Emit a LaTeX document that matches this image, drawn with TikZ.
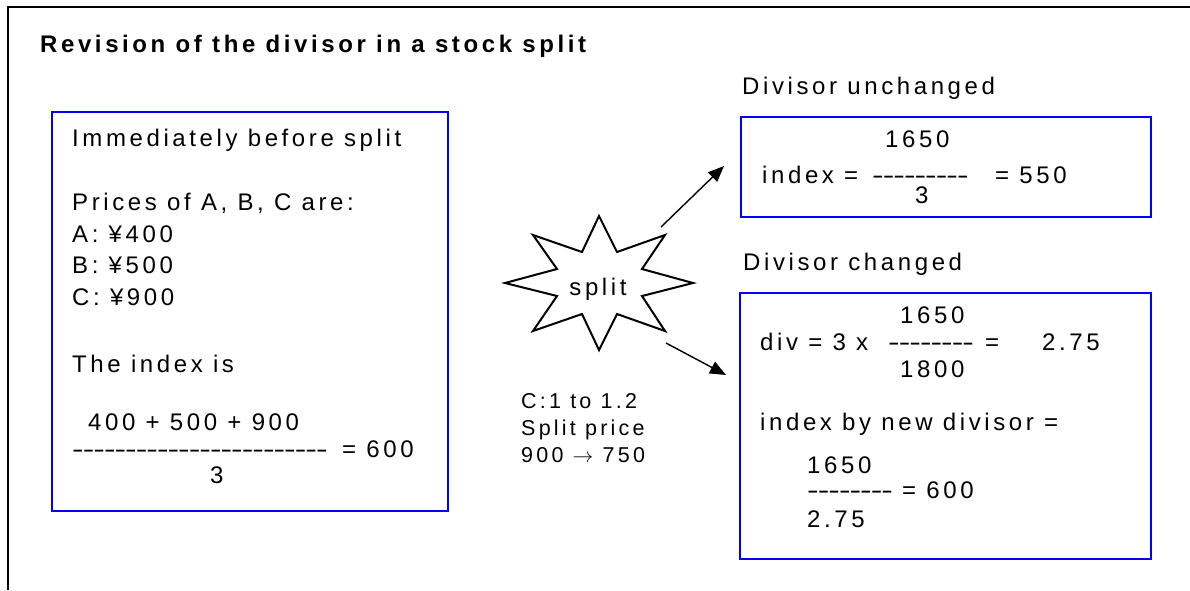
\documentclass[tikz,border=0pt]{standalone}
\usepackage{fontspec}
\setmainfont{Liberation Sans}[LetterSpace=15]
\usetikzlibrary{arrows.meta}
\newcommand\onehy{\makebox[10.6pt][l]{\scalebox{1.45}[1]{\addfontfeature{LetterSpace=0}-}}}
\newcommand\hyn[1]{\count255=0 \loop\ifnum\count255<#1 \onehy\advance\count255 by 1 \repeat}
\begin{document}
\begin{tikzpicture}[x=1pt,y=-1pt,
  txt/.style={anchor=base west, inner sep=0pt, font=\fontsize{24}{28}\selectfont},
  ctxt/.style={anchor=base, inner sep=0pt, font=\fontsize{24}{28}\selectfont},
  mtxt/.style={anchor=base west, inner sep=0pt, font=\fontsize{21.5}{26}\selectfont},
  ttl/.style={anchor=base west, inner sep=0pt, font=\fontsize{24}{28}\selectfont\bfseries},
  bluebox/.style={draw=blue, line width=2pt, inner sep=0pt, anchor=north west},
  frame/.style={line width=1.5pt},
  starline/.style={line width=2pt, line join=miter},
  arr/.style={line width=1.4pt, -{Triangle[length=16pt,width=13pt]}}
]
\useasboundingbox (0,0) rectangle (1190,590);
% outer frame
\draw[frame] (8,590) -- (8,7) -- (1190,7);
\node[ttl] (title) at (40,52) {Revision of the divisor in a stock split};

% left box
\node[bluebox, minimum width=396pt, minimum height=399pt] (before) at (51,111) {};
\node[txt] (l1) at (72,146) {Immediately before split};
\node[txt] (l2) at (72,210) {Prices of A, B, C are:};
\node[txt] (l3) at (72,242) {A: ¥400};
\node[txt] (l4) at (72,273) {B: ¥500};
\node[txt] (l5) at (72,305) {C: ¥900};
\node[txt] (l6) at (72,372) {The index is};
\node[txt] (l7) at (88,430) {400 + 500 + 900};
\node[txt] (l8) at (72,457) {\hyn{24}};
\node[txt] (l9) at (342,457) {= 600};
\node[txt] (l10) at (210,483) {3};

% star
\draw[starline] (599,216) -- (617,252) -- (665,235) -- (642,269) -- (693,283) -- (642,296)
  -- (665,331) -- (617,314) -- (599,350) -- (582,314) -- (533,331) -- (557,296)
  -- (505,283) -- (557,269) -- (533,235) -- (582,252) -- cycle;
\node[ctxt] (split) at (598,295) {split};

% middle text
\node[mtxt] (m1) at (521,408) {C:1 to 1.2};
\node[mtxt] (m2) at (521,435) {Split price};
\node[mtxt] (m3) at (521,462) {900 $\rightarrow$ 750};

% arrows
\coordinate (s1) at (661,227);
\coordinate (e1) at (724,166);
\coordinate (s2) at (666,343);
\coordinate (e2) at (726,375);
\draw[arr] (s1) -- (e1);
\draw[arr] (s2) -- (e2);

% top right
\node[txt] (h1) at (742,94) {Divisor unchanged};
\node[bluebox, minimum width=410pt, minimum height=100pt] (unch) at (740,116) {};
\node[txt] (u1) at (885,147) {1650};
\node[txt] (u2) at (762,183) {index =};
\node[txt] (u3) at (872,183) {\hyn{9}};
\node[txt] (u4) at (995,183) {= 550};
\node[txt] (u5) at (915,203) {3};

% bottom right
\node[txt] (h2) at (743,270) {Divisor changed};
\node[bluebox, minimum width=411pt, minimum height=266pt] (chg) at (739,292) {};
\node[txt] (c1) at (900,323) {1650};
\node[txt] (c2) at (760,350) {div = 3 x};
\node[txt] (c3) at (888,350) {\hyn{8}};
\node[txt] (c4) at (985,350) {=};
\node[txt] (c5) at (1042,350) {2.75};
\node[txt] (c6) at (900,377) {1800};
\node[txt] (c7) at (760,430) {index by new divisor =};
\node[txt] (c8) at (807,473) {1650};
\node[txt] (c9) at (807,498) {\hyn{8}};
\node[txt] (c10) at (902,498) {= 600};
\node[txt] (c11) at (807,527) {2.75};
\end{tikzpicture}
\end{document}
